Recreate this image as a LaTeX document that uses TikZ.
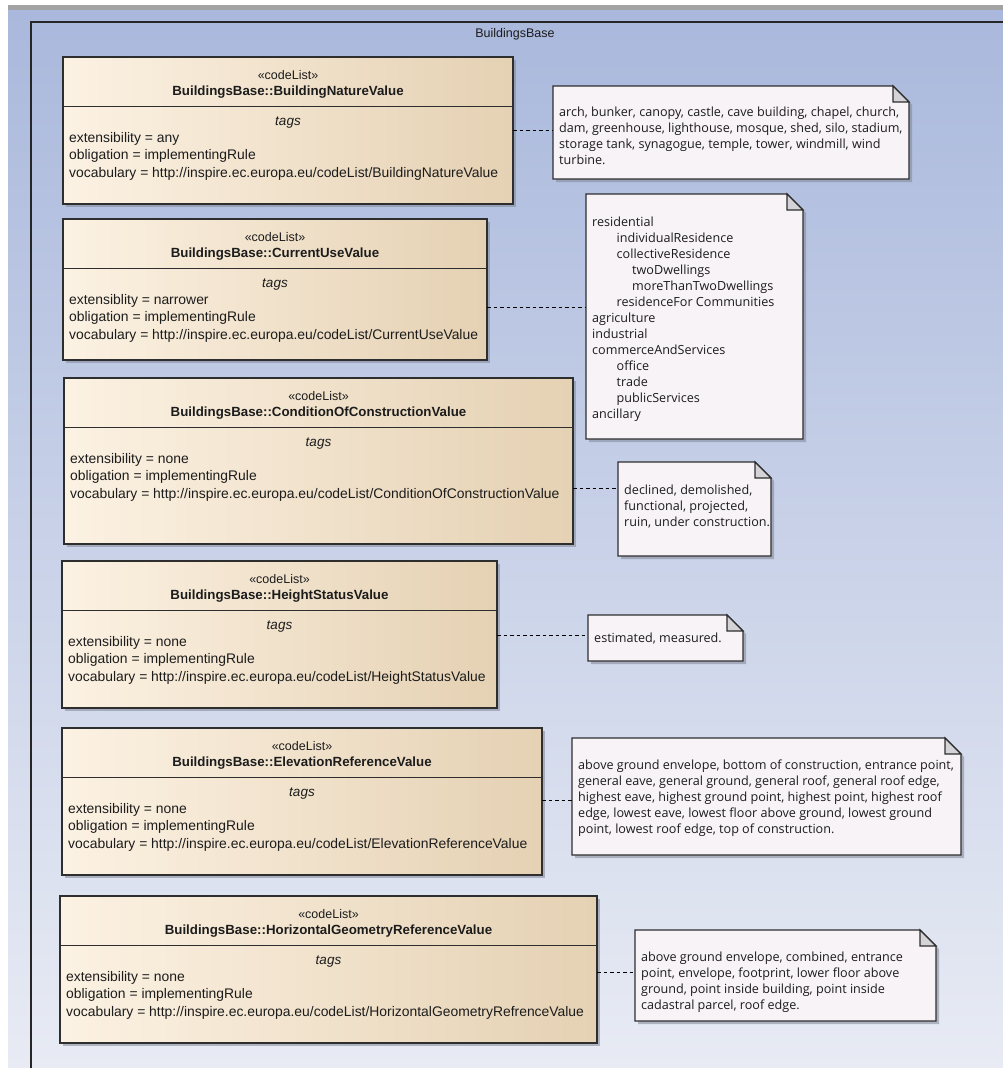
\documentclass[tikz,border=0pt]{standalone}
\usepackage{fontspec}
\setmainfont{Liberation Sans}
\newfontfamily\notefont{Open Sans}
\usetikzlibrary{calc,shadows}

\definecolor{bgTop}{HTML}{A9B8DC}
\definecolor{bgBot}{HTML}{E8EBF4}
\definecolor{barGray}{HTML}{A3A3A3}
\definecolor{boxL}{HTML}{FCF2E3}
\definecolor{boxR}{HTML}{E5D1B3}
\definecolor{boxLine}{HTML}{2E2E2E}
\definecolor{paper}{HTML}{F7F3F7}
\definecolor{foldGray}{HTML}{D3D3D8}
\definecolor{shadowGray}{HTML}{7F8696}
\definecolor{ink}{HTML}{1C1C1C}

% one <<codeList>> class with its tagged values
\newcommand\codelist[8]{%
  \node[clbox, minimum width=#4, minimum height=#5] (#1) at (#2,#3) {};
  \draw[divider] ($(#1.north west)+(0,49.5)$) -- ($(#1.north east)+(0,49.5)$);
  \node[stereo] (#1-st) at ($(#1.north)+(0,18)$) {«codeList»};
  \node[cname] (#1-nm) at ($(#1.north)+(0,35)$) {BuildingsBase::#6};
  \node[tagtitle] (#1-tg) at ($(#1.north)+(0,65.5)$) {tags};
  \node[tagline] (#1-t1) at ($(#1.north west)+(6,82)$) {#7};
  \node[tagline] (#1-t2) at ($(#1.north west)+(6,99.5)$) {obligation = implementingRule};
  \node[tagline] (#1-t3) at ($(#1.north west)+(6,117)$) {vocabulary = http://inspire.ec.europa.eu/codeList/#8};
}

% a note with a folded corner
\newcommand\umlnote[7]{%
  \node[noteframe, minimum width=#4, minimum height=#5] (#1) at (#2,#3) {};
  \draw[notepaper] (#1.north west) -- ($(#1.north east)+(-16,0)$) -- ($(#1.north east)+(0,16)$)
    -- (#1.south east) -- (#1.south west) -- cycle;
  \filldraw[fold] ($(#1.north east)+(-16,0)$) -- ($(#1.north east)+(-16,16)$)
    -- ($(#1.north east)+(0,16)$) -- cycle;
  \node[notetext] (#1-tx) at ($(#1.north west)+(6,#6-5.5)$) {#7};
}

\begin{document}
\begin{tikzpicture}[x=1pt,y=-1pt,
  clbox/.style={draw=boxLine, line width=1.1pt, left color=boxL, right color=boxR,
    anchor=north west, inner sep=0pt, outer sep=0pt,
    drop shadow={shadow xshift=3pt, shadow yshift=-3pt, fill=shadowGray, opacity=0.55}},
  divider/.style={draw=boxLine, line width=1.1pt},
  stereo/.style={font=\fontsize{12.5}{14}\selectfont, text=ink, inner sep=0pt},
  cname/.style={font=\fontsize{13.3}{15}\selectfont\bfseries, text=ink, inner sep=0pt},
  tagtitle/.style={font=\fontsize{13.5}{15}\selectfont\itshape, text=ink, inner sep=0pt},
  tagline/.style={font=\fontsize{13.9}{15}\selectfont, text=ink, anchor=west, inner sep=0pt,
    text height=1.5ex, text depth=.25ex},
  noteframe/.style={anchor=north west, inner sep=0pt, outer sep=0pt},
  notepaper/.style={draw=boxLine, line width=1.1pt, fill=paper,
    drop shadow={shadow xshift=3pt, shadow yshift=-3pt, fill=shadowGray, opacity=0.55}},
  fold/.style={draw=boxLine, line width=1.1pt, fill=foldGray, line join=miter},
  notetext/.style={font=\notefont\fontsize{12.6}{16}\selectfont, text=ink, anchor=north west,
    align=left, inner sep=0pt},
  link/.style={draw=black, line width=0.9pt, dash pattern=on 3.5pt off 3pt},
  pkgline/.style={draw=black!85, line width=1.4pt},
]
\useasboundingbox (0,0) rectangle (1003,1068);

% canvas
\fill[white] (0,0) rectangle (1003,1068);
\shade[top color=bgTop, bottom color=bgBot] (8,9) rectangle (1003,1068);
\fill[barGray] (8,5) rectangle (1003,9.5);

% package frame and its name
\draw[pkgline] (31,1068) -- (31,22) -- (1003,22);
\node[font=\fontsize{12.5}{14}\selectfont, text=ink] (pkg) at (515,34) {BuildingsBase};

% code lists
\codelist{nature}{63}{57}{450}{147}{BuildingNatureValue}{extensibility = any}{BuildingNatureValue}
\codelist{use}{63}{219}{424}{141}{CurrentUseValue}{extensiblity = narrower}{CurrentUseValue}
\codelist{cond}{64}{378}{509}{166}{ConditionOfConstructionValue}{extensibility = none}{ConditionOfConstructionValue}
\codelist{height}{62}{561}{435}{147}{HeightStatusValue}{extensibility = none}{HeightStatusValue}
\codelist{elev}{62}{728}{480}{147}{ElevationReferenceValue}{extensibility = none}{ElevationReferenceValue}
\codelist{horiz}{60}{896}{537}{147}{HorizontalGeometryReferenceValue}{extensibility = none}{HorizontalGeometryRefrenceValue}

% notes listing the values
\umlnote{natureN}{553}{86}{356}{93}{26}{arch, bunker, canopy, castle, cave building, chapel, church,\\
dam, greenhouse, lighthouse, mosque, shed, silo, stadium,\\
storage tank, synagogue, temple, tower, windmill, wind\\
turbine.}
\umlnote{useN}{586}{194}{217}{245}{28}{residential\\
\hspace*{24.5pt}individualResidence\\
\hspace*{24.5pt}collectiveResidence\\
\hspace*{40pt}twoDwellings\\
\hspace*{40pt}moreThanTwoDwellings\\
\hspace*{24.5pt}residenceFor Communities\\
agriculture\\
industrial\\
commerceAndServices\\
\hspace*{24.5pt}office\\
\hspace*{24.5pt}trade\\
\hspace*{24.5pt}publicServices\\
ancillary}
\umlnote{condN}{618}{462}{153}{94}{28}{declined, demolished,\\
functional, projected,\\
ruin, under construction.}
\umlnote{heightN}{588}{615}{155}{46}{23}{estimated, measured.}
\umlnote{elevN}{572}{738}{389}{117}{27}{above ground envelope, bottom of construction, entrance point,\\
general eave, general ground, general roof, general roof edge,\\
highest eave, highest ground point, highest point, highest roof\\
edge, lowest eave, lowest floor above ground, lowest ground\\
point, lowest roof edge, top of construction.}
\umlnote{horizN}{635}{930}{301}{91}{27}{above ground envelope, combined, entrance\\
point, envelope, footprint, lower floor above\\
ground, point inside building, point inside\\
cadastral parcel, roof edge.}

% dashed note links
\coordinate (k1) at (0,130);
\coordinate (k2) at (0,307);
\coordinate (k3) at (0,488);
\coordinate (k4) at (0,635);
\coordinate (k5) at (0,800);
\coordinate (k6) at (0,972);
\draw[link] (nature.east |- k1) -- (natureN.west |- k1);
\draw[link] (use.east |- k2) -- (useN.west |- k2);
\draw[link] (cond.east |- k3) -- (condN.west |- k3);
\draw[link] (height.east |- k4) -- (heightN.west |- k4);
\draw[link] (elev.east |- k5) -- (elevN.west |- k5);
\draw[link] (horiz.east |- k6) -- (horizN.west |- k6);
\end{tikzpicture}
\end{document}
